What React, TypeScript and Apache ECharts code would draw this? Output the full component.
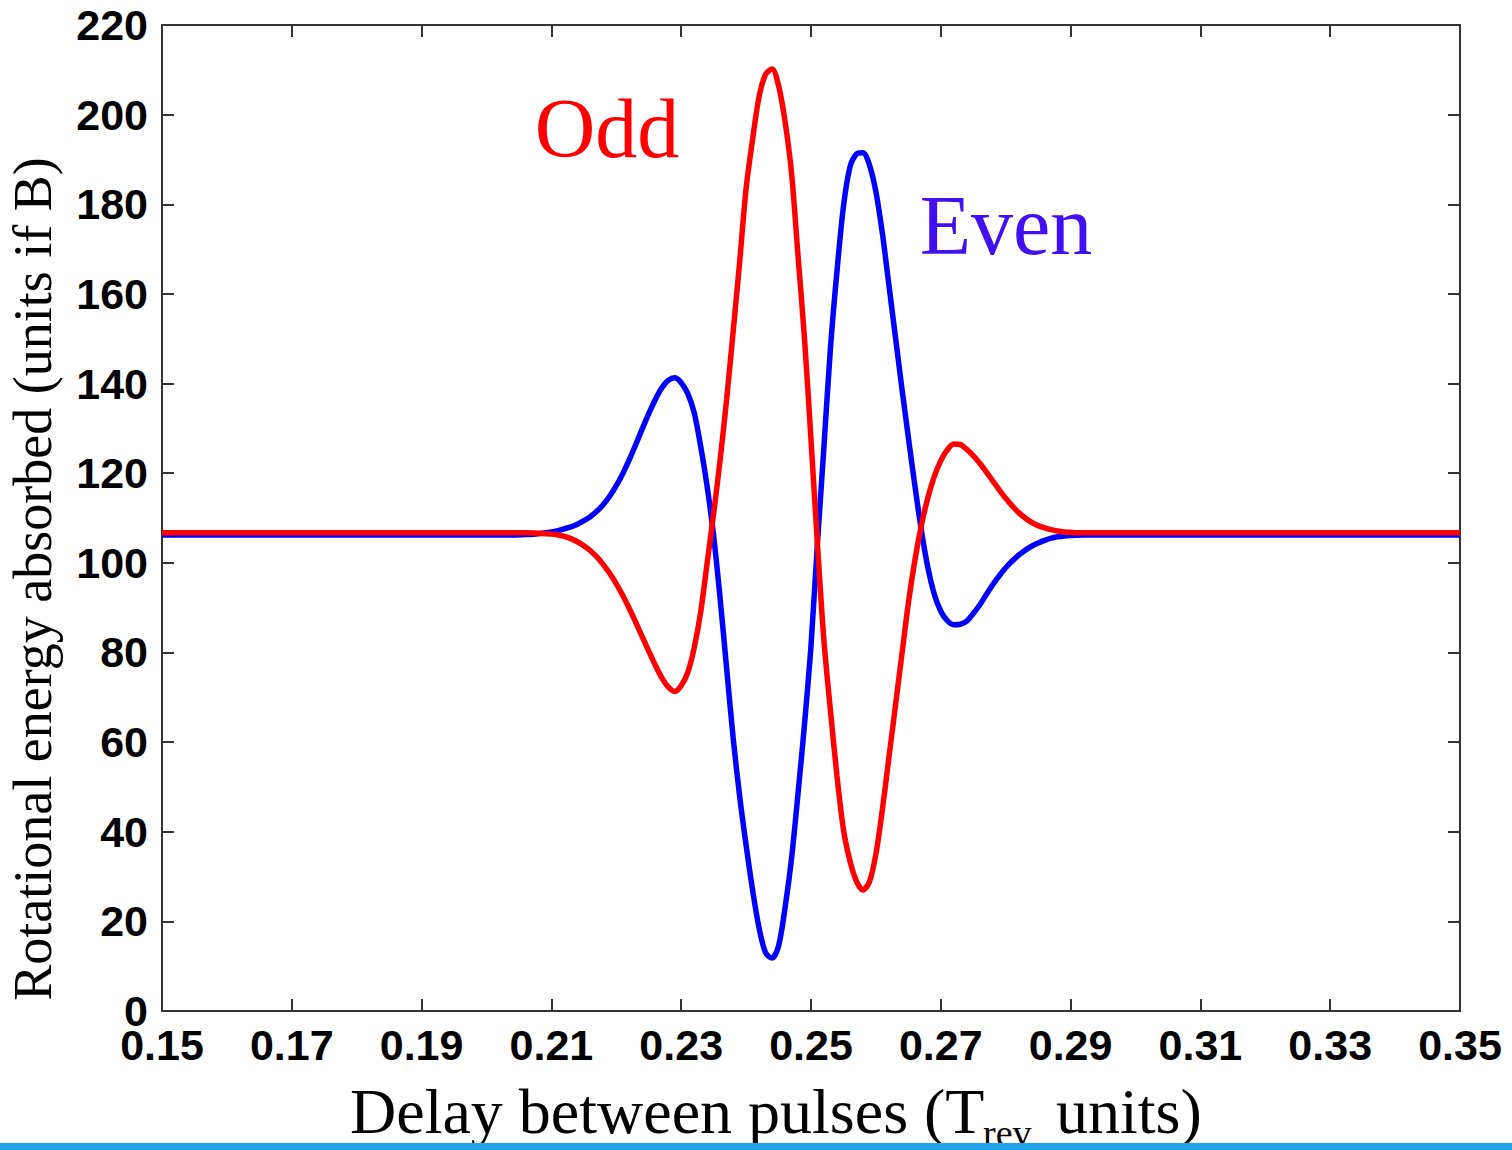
import React, { useEffect, useRef } from "react";
import * as echarts from "echarts";

const xValues = [
  0.15,
  0.2, 0.202, 0.204, 0.206, 0.208,
  0.21, 0.211, 0.212, 0.213, 0.214, 0.215, 0.216, 0.217, 0.218, 0.219,
  0.22, 0.221, 0.222, 0.223, 0.224, 0.225, 0.226, 0.227, 0.228, 0.229,
  0.23, 0.231, 0.232, 0.233, 0.234, 0.235, 0.236, 0.237, 0.238, 0.239,
  0.24, 0.241, 0.242, 0.243, 0.244, 0.245, 0.246, 0.247, 0.248, 0.249,
  0.25, 0.251, 0.252, 0.253, 0.254, 0.255, 0.256, 0.257, 0.258, 0.259,
  0.26, 0.261, 0.262, 0.263, 0.264, 0.265, 0.266, 0.267, 0.268, 0.269,
  0.27, 0.271, 0.272, 0.273, 0.274, 0.275, 0.276, 0.277, 0.278, 0.279,
  0.28, 0.281, 0.282, 0.283, 0.284, 0.285, 0.286, 0.287, 0.288, 0.289,
  0.29, 0.292, 0.294, 0.296, 0.298, 0.3,
  0.35,
];

const evenValues = [
  106.2,
  106.2, 106.2, 106.2, 106.3, 106.5,
  106.9, 107.2, 107.6, 108.0, 108.6, 109.4, 110.3, 111.5, 113.0, 114.9,
  117.2, 119.9, 123.0, 126.4, 129.9, 133.3, 136.4, 139.0, 140.7, 141.3,
  140.2, 137.8, 133.5, 126.0, 117.0, 106.0, 92.0, 76.5, 61.0, 48.0,
  37.0, 27.0, 18.5, 13.0, 11.8, 14.5, 23.0, 34.0, 48.5, 64.0,
  81.5, 104.5, 126.0, 148.0, 165.0, 179.5, 188.3, 191.2, 191.5, 188.8,
  182.8, 173.5, 162.0, 150.5, 139.0, 128.0, 117.3, 107.3, 99.0, 93.0,
  89.2, 87.1, 86.2, 86.3, 87.0, 88.7, 90.6, 92.9, 95.1, 97.1,
  98.9, 100.4, 101.7, 102.8, 103.7, 104.4, 105.0, 105.5, 105.8, 106.0,
  106.1, 106.2, 106.2, 106.2, 106.2, 106.2,
  106.2,
];

const oddValues = [
  106.7,
  106.7, 106.7, 106.7, 106.7, 106.6,
  106.4, 106.2, 105.9, 105.4, 104.7, 103.8, 102.7, 101.3, 99.6, 97.6,
  95.3, 92.7, 89.8, 86.7, 83.5, 80.3, 77.2, 74.4, 72.3, 71.3,
  72.6, 75.5, 81.0, 89.0, 100.0, 111.0, 123.0, 136.5, 151.5, 167.0,
  183.5, 194.5, 204.0, 209.0, 210.2, 206.5, 198.5, 187.0, 168.5, 150.0,
  127.5, 104.0, 82.5, 67.0, 52.5, 40.5, 33.5, 29.0, 27.0, 28.8,
  35.0, 45.0, 56.5, 68.0, 79.5, 91.0, 100.5, 108.3, 114.5, 119.3,
  122.8, 125.2, 126.5, 126.4, 125.3, 123.9, 122.2, 120.3, 118.3, 116.3,
  114.4, 112.7, 111.2, 110.0, 109.0, 108.3, 107.8, 107.4, 107.1, 106.9,
  106.8, 106.7, 106.7, 106.7, 106.7, 106.7,
  106.7,
];

const xTickMin = 0.15;
const xTickMax = 0.35;
const xTickStep = 0.02;
const yTickMin = 0;
const yTickMax = 220;
const yTickStep = 20;

const serif = "'Liberation Serif', 'Times New Roman', serif";
const sans = "'Liberation Sans', Arial, sans-serif";

export default function App() {
  const ref = useRef<HTMLDivElement>(null);

  useEffect(() => {
    if (!ref.current) return;
    const chart = echarts.init(ref.current, undefined, { renderer: "svg" });
    const lineCol = "#333";
    const axisCommon = {
      axisLine: { show: true, onZero: false, lineStyle: { color: lineCol, width: 2 } },
      axisTick: { show: true, inside: true, length: 12, lineStyle: { color: lineCol, width: 2 } },
      splitLine: { show: false },
    };
    const labelStyle = {
      fontSize: 43,
      fontWeight: "bold" as const,
      fontFamily: sans,
      color: "#000",
    };
    const toPairs = (ys: number[]) => xValues.map((x, i) => [x, ys[i]]);

    chart.setOption({
      animation: false,
      backgroundColor: "#fff",
      grid: { left: 162, right: 52, top: 25, bottom: 139, containLabel: false },
      xAxis: [
        {
          type: "value",
          min: xTickMin,
          max: xTickMax,
          interval: xTickStep,
          position: "bottom",
          ...axisCommon,
          axisLabel: { ...labelStyle, margin: 12, formatter: (v: number) => v.toFixed(2) },
        },
        {
          type: "value",
          min: xTickMin,
          max: xTickMax,
          interval: xTickStep,
          position: "top",
          ...axisCommon,
          axisLabel: { show: false },
        },
      ],
      yAxis: [
        {
          type: "value",
          min: yTickMin,
          max: yTickMax,
          interval: yTickStep,
          position: "left",
          ...axisCommon,
          axisLabel: { ...labelStyle, margin: 14 },
        },
        {
          type: "value",
          min: yTickMin,
          max: yTickMax,
          interval: yTickStep,
          position: "right",
          ...axisCommon,
          axisLabel: { show: false },
        },
      ],
      series: [
        {
          name: "Even",
          type: "line",
          data: toPairs(evenValues),
          showSymbol: false,
          symbol: "none",
          smooth: 0.3,
          lineStyle: { color: "#0000ff", width: 5.5 },
          z: 2,
        },
        {
          name: "Odd",
          type: "line",
          data: toPairs(oddValues),
          showSymbol: false,
          symbol: "none",
          smooth: 0.3,
          lineStyle: { color: "#ff0000", width: 5.5 },
          z: 3,
        },
      ],
      graphic: [
        {
          type: "text",
          x: 607,
          y: 128,
          style: {
            text: "Odd",
            font: `84px ${serif}`,
            fill: "#ff0000",
            textAlign: "center",
            textVerticalAlign: "middle",
          },
        },
        {
          type: "text",
          x: 1006,
          y: 225,
          style: {
            text: "Even",
            font: `84px ${serif}`,
            fill: "#4010f0",
            textAlign: "center",
            textVerticalAlign: "middle",
          },
        },
        {
          type: "text",
          x: 33,
          y: 579,
          rotation: Math.PI / 2,
          style: {
            text: "Rotational energy absorbed (units if B)",
            font: `54px ${serif}`,
            fill: "#000",
            textAlign: "center",
            textVerticalAlign: "middle",
          },
        },
        {
          type: "text",
          x: 350,
          y: 1111,
          style: {
            text: "Delay between pulses (T",
            font: `64px ${serif}`,
            fill: "#000",
            textAlign: "left",
            textVerticalAlign: "middle",
          },
        },
        {
          type: "text",
          x: 983,
          y: 1133,
          style: {
            text: "rev",
            font: `38px ${serif}`,
            fill: "#000",
            textAlign: "left",
            textVerticalAlign: "middle",
          },
        },
        {
          type: "text",
          x: 1056,
          y: 1111,
          style: {
            text: "units)",
            font: `64px ${serif}`,
            fill: "#000",
            textAlign: "left",
            textVerticalAlign: "middle",
          },
        },
        {
          type: "rect",
          z: 100,
          shape: { x: 0, y: 1143, width: 1512, height: 7 },
          style: { fill: "#22a5ec" },
        },
      ],
    });
    return () => chart.dispose();
  }, []);

  return (
    <div
      ref={ref}
      style={{ position: "fixed", left: 0, top: 0, width: 1512, height: 1150, background: "#fff" }}
    />
  );
}
